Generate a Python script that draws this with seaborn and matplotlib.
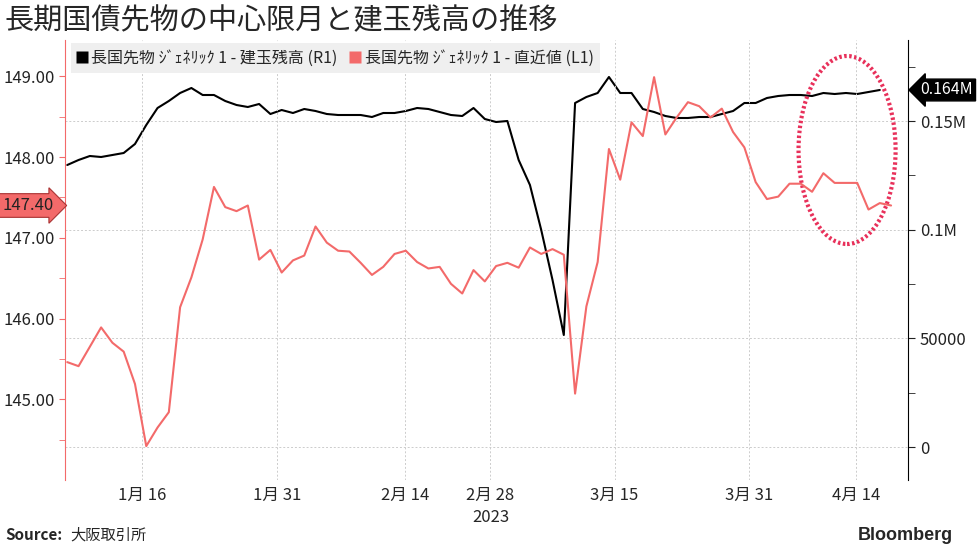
import numpy as np
import pandas as pd
import matplotlib
matplotlib.use("Agg")
import matplotlib.pyplot as plt
from matplotlib.patches import Ellipse
from matplotlib.lines import Line2D
import seaborn as sns

# 長国先物 ジェネリック1 - 直近値 (L1), one value per trading day
price = [145.46, 145.41, 145.65, 145.89, 145.70, 145.59, 145.19, 144.42, 144.65, 144.84,
         146.14, 146.51, 146.98, 147.63, 147.38, 147.33, 147.40, 146.73, 146.85, 146.57,
         146.72, 146.78, 147.14, 146.94, 146.84, 146.83, 146.69, 146.54, 146.64, 146.80,
         146.84, 146.70, 146.62, 146.64, 146.43, 146.31, 146.60, 146.46, 146.65, 146.69,
         146.63, 146.88, 146.80, 146.86, 146.79, 145.07, 146.15, 146.70, 148.10, 147.72,
         148.43, 148.26, 148.99, 148.28, 148.49, 148.68, 148.63, 148.49, 148.60, 148.31,
         148.12, 147.69, 147.48, 147.51, 147.67, 147.67, 147.57, 147.80, 147.68, 147.68,
         147.68, 147.35, 147.43, 147.40]

# 長国先物 ジェネリック1 - 建玉残高 (R1)
open_int = [129760, 132060, 133900, 133440, 134360, 135280, 139420, 148160, 155980, 159200,
            162880, 165180, 161960, 161960, 159200, 157360, 156440, 157820, 153220, 155060,
            153680, 155520, 154600, 153220, 152760, 152760, 152760, 151840, 153680, 153680,
            154600, 155980, 155520, 154140, 152760, 152300, 155980, 150920, 149540, 150000,
            132060, 120560, 99860, 76860, 51560, 158280, 161040, 162880, 170240, 162880,
            162880, 155520, 154140, 152300, 151380, 151380, 151840, 151840, 153220, 154600,
            158280, 158280, 160580, 161500, 161960, 161960, 161500, 162880, 162420, 162880,
            162420, 163340, 164260]

tick_idx = [6.6, 18.6, 29.9, 37.5, 48.5, 60.4, 69.9]
tick_labels = ["1月 16", "1月 31", "2月 14", "2月 28", "3月 15", "3月 31", "4月 14"]

JP = ["Noto Sans CJK JP", "DejaVu Sans"]
RED = "#f36a6a"

sns.set_style("white")
plt.rcParams["font.family"] = JP

df_p = pd.DataFrame({"i": np.arange(len(price)), "v": price})
df_o = pd.DataFrame({"i": np.arange(len(open_int)), "v": open_int})

fig = plt.figure(figsize=(9.77, 5.49), dpi=100)
ax = fig.add_axes([65 / 977, 69 / 549, 843 / 977, 440 / 549])
ax2 = ax.twinx()

sns.lineplot(data=df_p, x="i", y="v", ax=ax, color=RED, linewidth=1.5)
sns.lineplot(data=df_o, x="i", y="v", ax=ax2, color="black", linewidth=1.5)
ax.set_zorder(ax2.get_zorder() + 1)
ax.patch.set_visible(False)

ax.set_xlim(-0.2, 74.5)
ax.set_ylim(144.0, 149.45)
ax2.set_ylim(-15140, 187260)

ax.set_yticks([145, 146, 147, 148, 149])
ax.set_yticks(np.arange(144.5, 149.5, 1.0), minor=True)
ax.set_yticklabels([f"{v:.2f}" for v in [145, 146, 147, 148, 149]], fontsize=12)
ax.tick_params(axis="y", which="both", colors=RED, length=4, labelcolor="#222222", direction="out")
ax2.set_yticks([0, 50000, 100000, 150000])
ax2.set_yticks([25000, 75000, 125000, 175000], minor=True)
ax2.set_yticklabels(["0", "50000", "0.1M", "0.15M"], fontsize=12)
ax2.tick_params(axis="y", which="both", length=5, colors="#222222")

ax.set_xticks(tick_idx)
ax.set_xticklabels(tick_labels, fontsize=12)
ax.tick_params(axis="x", length=0, pad=5)
ax.set_xlabel("")
ax.set_ylabel("")
ax2.set_ylabel("")

ax2.grid(axis="y", color="#cccccc", linestyle=(0, (2, 2)), linewidth=0.7)
for t in tick_idx:
    ax.axvline(t, color="#cccccc", linestyle=(0, (2, 2)), linewidth=0.7, zorder=0)

for s in ["top", "bottom"]:
    ax.spines[s].set_visible(False)
    ax2.spines[s].set_visible(False)
ax.spines["right"].set_visible(False)
ax2.spines["left"].set_visible(False)
ax.spines["left"].set_color(RED)
ax2.spines["right"].set_color("black")

ax.text(37.5, -0.065, "2023", transform=ax.get_xaxis_transform(), ha="center",
        va="top", fontsize=12)

# value tags
ax.annotate(f"{price[-1]:.2f}", xy=(0, price[-1]), xycoords=("axes fraction", "data"),
            xytext=(-8, 0), textcoords="offset points", ha="right", va="center",
            fontsize=12, color="#222222",
            bbox=dict(boxstyle="rarrow,pad=0.2", fc=RED, ec="#aa3333", lw=0.8))
ax2.annotate(f"{open_int[-1] / 1e6:.3f}M", xy=(1, open_int[-1]), xycoords=("axes fraction", "data"),
             xytext=(9, 0), textcoords="offset points", ha="left", va="center",
             fontsize=11.5, color="white",
             bbox=dict(boxstyle="larrow,pad=0.15", fc="black", ec="black"))

# highlight circle
ax2.add_patch(Ellipse((69.1, 136660), 8.6, 86480, fill=False, ec="#e8305a",
                      lw=3, linestyle=(0, (0.6, 0.6)), zorder=5))

handles = [Line2D([], [], marker="s", color="none", markerfacecolor="black",
                  markeredgecolor="none", markersize=8),
           Line2D([], [], marker="s", color="none", markerfacecolor=RED,
                  markeredgecolor="none", markersize=8)]
labels = ["長国先物 ｼﾞｪﾈﾘｯｸ 1 - 建玉残高 (R1)", "長国先物 ｼﾞｪﾈﾘｯｸ 1 - 直近値 (L1)"]
leg = ax.legend(handles, labels, loc="upper left", bbox_to_anchor=(0.003, 1.0), ncol=2,
                frameon=True, fancybox=False, facecolor="#efefef", edgecolor="none",
                fontsize=11.5, handlelength=0.6, handletextpad=0.3, columnspacing=0.8,
                borderaxespad=0.2, framealpha=1)

fig.text(0.005, 0.962, "長期国債先物の中心限月と建玉残高の推移", fontsize=21, va="center")
fig.text(0.005, 0.025, "Source:", fontsize=11, fontweight="bold", va="center")
fig.text(0.072, 0.025, "大阪取引所", fontsize=11, va="center")
fig.text(0.975, 0.025, "Bloomberg", fontsize=13, fontweight="bold", ha="right", va="center",
         family=["Liberation Sans", "DejaVu Sans"])

fig.savefig("out.png", dpi=100)
